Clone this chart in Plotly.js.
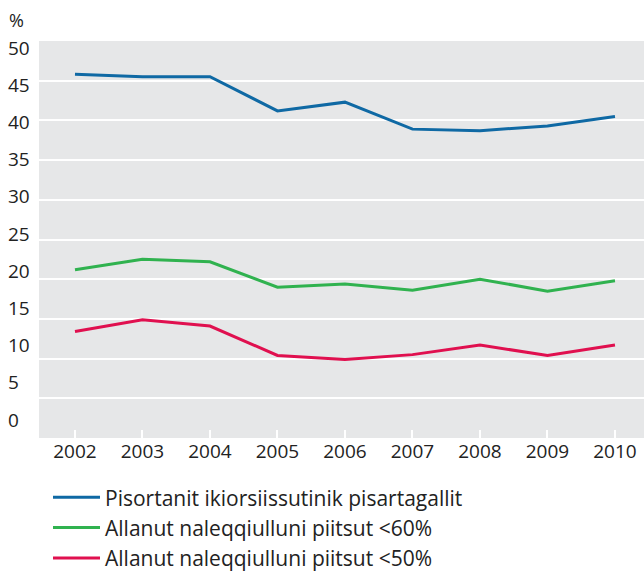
<!DOCTYPE html>
<html>
<head>
<meta charset="utf-8">
<script src="https://cdn.plot.ly/plotly-3.0.1.min.js"></script>
<style>html,body{margin:0;padding:0;background:#fff;}#chart{width:644px;height:573px;}</style>
</head>
<body>
<div id="chart"></div>
<script>
// ---- data ----
const years = [2002, 2003, 2004, 2005, 2006, 2007, 2008, 2009, 2010];
const seriesNames = [
  "Pisortanit ikiorsiissutinik pisartagallit",
  "Allanut naleqqiulluni piitsut <60%",
  "Allanut naleqqiulluni piitsut <50%"
];
const benefitRecipients = [45.8, 45.5, 45.5, 41.2, 42.3, 38.9, 38.7, 39.3, 40.5];
const poor60 = [21.2, 22.5, 22.2, 19.0, 19.4, 18.6, 20.0, 18.5, 19.8];
const poor50 = [13.4, 14.9, 14.1, 10.4, 9.9, 10.5, 11.7, 10.4, 11.7];
const yTickVals = [0, 5, 10, 15, 20, 25, 30, 35, 40, 45, 50];
const yTickText = ["0", "5", "10", "15", "20", "25", "30", "35", "40", "45", "50"];
const gridVals = [5, 10, 15, 20, 25, 30, 35, 40, 45];
const unitLabel = "%";

const colors = ["#0f69a4", "#30b24f", "#e0104f"];
const FONT = "Open Sans, Noto Sans, DejaVu Sans, sans-serif";
const TXT = "#222222";

const allSeries = [benefitRecipients, poor60, poor50];
const traces = allSeries.map((vals, i) => ({
  type: "scatter",
  mode: "lines",
  x: years,
  y: vals,
  name: seriesNames[i],
  line: {color: colors[i], width: 3},
  xaxis: "x",
  yaxis: "y",
  hoverinfo: "skip"
}));
// invisible trace to carry the label axis
traces.push({
  type: "scatter", mode: "markers", x: [years[0]], y: [0],
  yaxis: "y2", showlegend: false, marker: {opacity: 0}, hoverinfo: "skip"
});

const layout = {
  width: 644,
  height: 573,
  margin: {l: 0, r: 0, t: 30, b: 135, pad: 0, autoexpand: false},
  paper_bgcolor: "#ffffff",
  plot_bgcolor: "#ffffff",
  showlegend: true,
  font: {family: FONT, color: TXT, size: 19},
  xaxis: {
    domain: [39 / 644, 1],
    range: [2001.467, 2010.43],
    tickmode: "array",
    tickvals: years,
    ticktext: years.map(String),
    ticks: "inside",
    ticklen: 8,
    tickwidth: 2,
    tickcolor: "#ffffff",
    showgrid: false,
    zeroline: false,
    showline: false,
    automargin: false,
    tickfont: {family: FONT, size: 19, color: TXT},
    fixedrange: true
  },
  yaxis: {
    range: [0, 51.385],
    tickmode: "array",
    tickvals: gridVals,
    showticklabels: false,
    ticks: "",
    showgrid: true,
    gridcolor: "#ffffff",
    gridwidth: 2,
    zeroline: false,
    showline: false,
    automargin: false,
    fixedrange: true
  },
  yaxis2: {
    overlaying: "y",
    anchor: "free",
    position: 4 / 644,
    side: "left",
    range: [-2.419, 52.419],
    tickmode: "array",
    tickvals: yTickVals,
    ticktext: yTickText,
    ticklabelposition: "inside",
    ticks: "",
    showgrid: false,
    zeroline: false,
    showline: false,
    automargin: false,
    tickfont: {family: FONT, size: 19, color: TXT},
    fixedrange: true
  },
  shapes: [{
    type: "rect", layer: "below",
    xref: "x domain", x0: 0, x1: 1,
    yref: "y", y0: 0, y1: 50,
    fillcolor: "#e6e7e8", line: {width: 0}
  }],
  annotations: [{
    text: unitLabel, xref: "paper", yref: "paper",
    x: 0, y: 1, xanchor: "left", yanchor: "bottom",
    xshift: 7, yshift: -4, showarrow: false,
    font: {family: FONT, size: 18, color: TXT}
  }],
  legend: {
    orientation: "v",
    x: 48 / 644, xanchor: "left",
    y: -0.096, yanchor: "top",
    bgcolor: "rgba(0,0,0,0)",
    borderwidth: 0,
    font: {family: FONT, size: 21, color: TXT},
    itemwidth: 47,
    tracegroupgap: 0
  }
};

Plotly.newPlot("chart", traces, layout, {displayModeBar: false, staticPlot: true});
</script>
</body>
</html>
